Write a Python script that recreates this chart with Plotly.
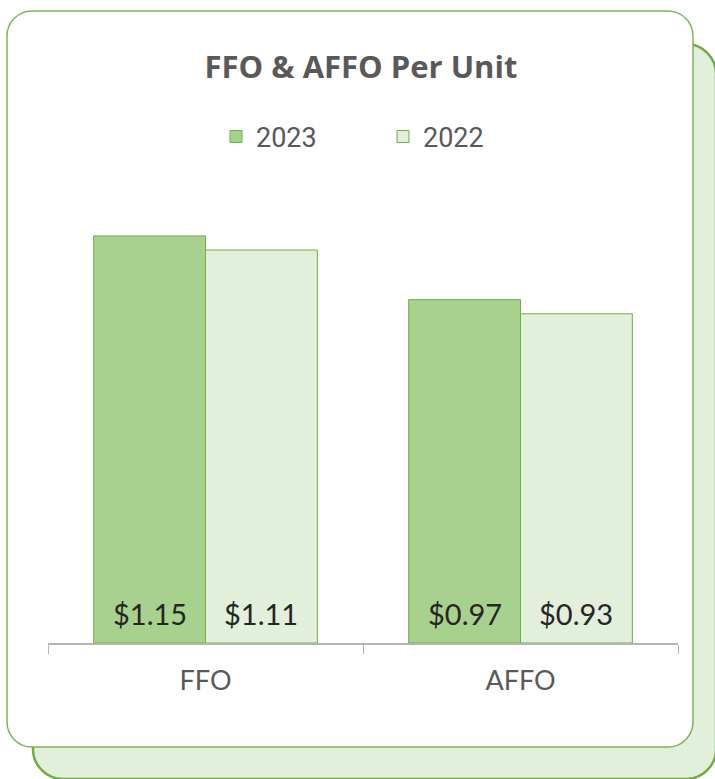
import plotly.graph_objects as go

# ---- data ----
categories = ["FFO", "AFFO"]
series_names = ["2023", "2022"]
values_2023 = [1.15, 0.97]
values_2022 = [1.11, 0.93]
title_text = "FFO &amp; AFFO Per Unit"

# ---- styles ----
W, H = 715, 779
ML, MR, MT, MB = 48, 37, 200, 136
PW, PH = W - ML - MR, H - MT - MB
GREEN_LINE = "#70ad47"
FILL_2023 = "#a9d18e"
FILL_2022 = "#e2efda"
TXT_GREY = "#595959"
BARGAP = 0.29


def px(x):
    return (x - ML) / PW


def py(y):
    return (H - MB - y) / PH


def rounded_rect(x0, y0, x1, y1, r):
    k = 0.5523 * r
    pts = [
        f"M{px(x0 + r)},{py(y0)}",
        f"L{px(x1 - r)},{py(y0)}",
        f"C{px(x1 - r + k)},{py(y0)} {px(x1)},{py(y0 + r - k)} {px(x1)},{py(y0 + r)}",
        f"L{px(x1)},{py(y1 - r)}",
        f"C{px(x1)},{py(y1 - r + k)} {px(x1 - r + k)},{py(y1)} {px(x1 - r)},{py(y1)}",
        f"L{px(x0 + r)},{py(y1)}",
        f"C{px(x0 + r - k)},{py(y1)} {px(x0)},{py(y1 - r + k)} {px(x0)},{py(y1 - r)}",
        f"L{px(x0)},{py(y0 + r)}",
        f"C{px(x0)},{py(y0 + r - k)} {px(x0 + r - k)},{py(y0)} {px(x0 + r)},{py(y0)}",
        "Z",
    ]
    return " ".join(pts)


series = [
    (series_names[0], values_2023, FILL_2023),
    (series_names[1], values_2022, FILL_2022),
]

fig = go.Figure()
annotations = []
n = len(series)
bar_w = (1 - BARGAP) / n
for si, (name, vals, fill) in enumerate(series):
    fig.add_trace(
        go.Bar(
            x=categories,
            y=vals,
            name=name,
            marker=dict(color=fill, line=dict(color=GREEN_LINE, width=1)),
            hoverinfo="skip",
        )
    )
    offset = -(1 - BARGAP) / 2 + bar_w * (si + 0.5)
    for ci, v in enumerate(vals):
        annotations.append(dict(
            x=ci + offset, y=0, xref="x", yref="y",
            text=f"${v:.2f}", showarrow=False,
            xanchor="center", yanchor="bottom", yshift=10,
            font=dict(family="Lato", size=29, color="#262626"),
        ))

shapes = [
    dict(type="path", xref="paper", yref="paper", layer="below",
         path=rounded_rect(33, 44, 716, 779, 30),
         fillcolor=FILL_2022, line=dict(color=GREEN_LINE, width=2.5)),
    dict(type="path", xref="paper", yref="paper", layer="below",
         path=rounded_rect(7, 11, 693, 747, 25),
         fillcolor="white", line=dict(color="#7cb65a", width=1.5)),
]

fig.update_layout(
    width=W,
    height=H,
    autosize=False,
    margin=dict(l=ML, r=MR, t=MT, b=MB, pad=0),
    paper_bgcolor="white",
    plot_bgcolor="rgba(0,0,0,0)",
    barmode="group",
    bargap=BARGAP,
    bargroupgap=0,
    shapes=shapes,
    annotations=annotations,
    title=dict(
        text=f"<b>{title_text}</b>",
        font=dict(family="Open Sans", size=31, color=TXT_GREY),
        xref="container", x=361 / W, xanchor="center",
        yref="container", y=1 - 67 / H, yanchor="middle",
    ),
    legend=dict(
        orientation="h",
        xref="container", x=216 / W, xanchor="left",
        yref="container", y=1 - 137 / H, yanchor="middle",
        font=dict(family="Roboto", size=27, color=TXT_GREY),
        entrywidth=122,
        bgcolor="rgba(0,0,0,0)",
        traceorder="normal",
    ),
    xaxis=dict(
        range=[-0.5, 1.5],
        showline=True,
        linecolor="#b4b4b4",
        linewidth=1.5,
        ticks="outside",
        tickson="boundaries",
        ticklen=9,
        tickcolor="#b4b4b4",
        tickwidth=1,
        ticklabelstandoff=13,
        tickfont=dict(family="Lato", size=27, color=TXT_GREY),
        showgrid=False,
        zeroline=False,
        fixedrange=True,
    ),
    yaxis=dict(range=[0, 1.2514], visible=False, fixedrange=True),
    showlegend=True,
)

fig.write_html(
    "out.html",
    config={"displayModeBar": False},
    post_script="document.body.style.margin='0';document.body.style.overflow='hidden';",
)
